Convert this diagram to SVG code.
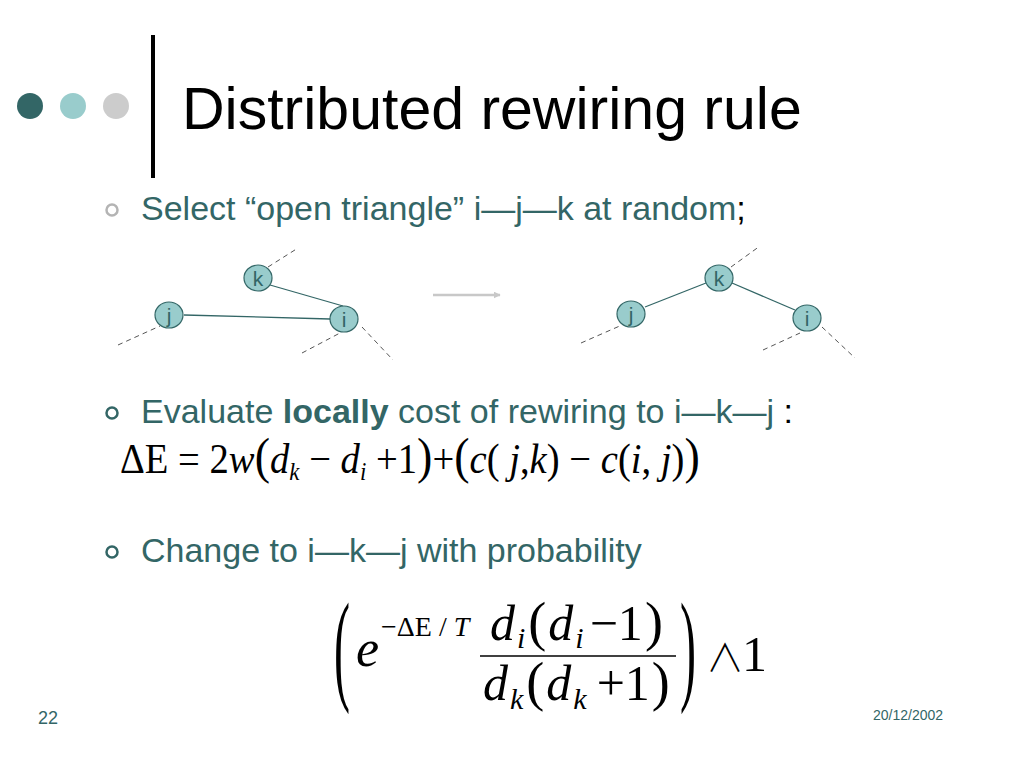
<svg xmlns="http://www.w3.org/2000/svg" width="1024" height="768" viewBox="0 0 1024 768">
<defs>
<style>
.sans{font-family:"Liberation Sans",Arial,sans-serif}
.body{font-size:34px;fill:#336666}
.node{fill:#99cccc;stroke:#336666;stroke-width:1.2}
.lbl{font-family:"Liberation Sans",Arial,sans-serif;font-size:21px;fill:#336666;text-anchor:middle}
.edge{stroke:#336666;stroke-width:1.3;fill:none}
.dash{stroke:#555;stroke-width:1;stroke-dasharray:5,4;fill:none}
.m{font-family:"Liberation Serif","Times New Roman",serif;fill:#000}
.i{font-style:italic}
</style>
<marker id="arr" viewBox="0 0 10 10" refX="9" refY="5" markerWidth="7" markerHeight="7" markerUnits="userSpaceOnUse" orient="auto">
<path d="M0,0 L10,5 L0,10 z" fill="#c8c8c8"/>
</marker>
</defs>
<rect width="1024" height="768" fill="#fff"/>
<g id="header">
<circle cx="30" cy="106" r="13" fill="#336666"/>
<circle cx="73" cy="106" r="13" fill="#99cccc"/>
<circle cx="116" cy="106" r="13" fill="#cccccc"/>
<line x1="153" y1="35" x2="153" y2="178" stroke="#000" stroke-width="4"/>
<text x="182" y="129" class="sans" font-size="59" fill="#000">Distributed rewiring rule</text>
</g>
<g id="bullet1">
<circle cx="112" cy="210" r="5.5" fill="none" stroke="#b4b4b4" stroke-width="2.5"/>
<text x="141" y="220" class="sans body">Select “open triangle” i—j—k at random<tspan fill="#000">;</tspan></text>
</g>
<g id="connectors">
<line class="dash" x1="268" y1="267" x2="298" y2="248"/>
<line class="dash" x1="118" y1="345" x2="160" y2="326"/>
<line class="dash" x1="302" y1="353" x2="340" y2="333"/>
<line class="dash" x1="362" y1="327" x2="393" y2="360"/>
<line class="edge" x1="270" y1="285" x2="343" y2="306"/>
<line class="edge" x1="184" y1="315" x2="330" y2="319"/>
<line x1="433" y1="295" x2="500" y2="295" stroke="#c8c8c8" stroke-width="2.5" marker-end="url(#arr)"/>
<line class="dash" x1="731" y1="267" x2="760" y2="246"/>
<line class="dash" x1="581" y1="343" x2="622" y2="325"/>
<line class="dash" x1="763" y1="350" x2="800" y2="333"/>
<line class="dash" x1="822" y1="327" x2="855" y2="358"/>
<line class="edge" x1="645" y1="307" x2="706" y2="283"/>
<line class="edge" x1="732" y1="283" x2="795" y2="310"/>
</g>
<g id="node-k1"><ellipse class="node" cx="258" cy="278" rx="14" ry="13"/><text class="lbl" x="258" y="286">k</text></g>
<g id="node-j1"><ellipse class="node" cx="169" cy="315" rx="14" ry="13"/><text class="lbl" x="169" y="323">j</text></g>
<g id="node-i1"><ellipse class="node" cx="344" cy="319" rx="14" ry="13"/><text class="lbl" x="344" y="327">i</text></g>
<g id="node-k2"><ellipse class="node" cx="719" cy="278" rx="14" ry="13"/><text class="lbl" x="719" y="286">k</text></g>
<g id="node-j2"><ellipse class="node" cx="631" cy="314" rx="14" ry="13"/><text class="lbl" x="631" y="322">j</text></g>
<g id="node-i2"><ellipse class="node" cx="807" cy="318" rx="14" ry="13"/><text class="lbl" x="807" y="326">i</text></g>
<g id="bullet2">
<circle cx="112" cy="413" r="5.5" fill="none" stroke="#336666" stroke-width="2.5"/>
<text x="141" y="423" class="sans body">Evaluate <tspan font-weight="bold">locally</tspan> cost of rewiring to i—k—j<tspan fill="#000"> :</tspan></text>
</g>
<g id="formula1" class="m" transform="translate(120,0) scale(0.92,1) translate(-120,0)">
<text x="120" y="473" font-size="42">ΔE = 2<tspan class="i">w</tspan><tspan font-size="50">(</tspan><tspan class="i">d</tspan><tspan class="i" font-size="25" dy="7">k</tspan><tspan dy="-7"> − </tspan><tspan class="i">d</tspan><tspan class="i" font-size="25" dy="7">i</tspan><tspan dy="-7"> +1</tspan><tspan font-size="50">)</tspan>+<tspan font-size="50">(</tspan><tspan class="i">c</tspan>( <tspan class="i">j</tspan>,<tspan class="i">k</tspan>) − <tspan class="i">c</tspan>(<tspan class="i">i</tspan>, <tspan class="i">j</tspan>)<tspan font-size="50">)</tspan></text>
</g>
<g id="bullet3">
<circle cx="112" cy="552" r="5.5" fill="none" stroke="#336666" stroke-width="2.5"/>
<text x="141" y="562" class="sans body">Change to i—k—j with probability</text>
</g>
<g id="formula2" class="m">
<text transform="translate(334,688) scale(1,2.55)" x="0" y="0" font-size="48">(</text>
<text x="356" y="666" class="i" font-size="52">e</text>
<text x="381" y="636" font-size="28">−ΔE / <tspan class="i">T</tspan></text>
<text x="490" y="640" font-size="50"><tspan class="i">d</tspan><tspan class="i" font-size="30" dx="2" dy="8">i</tspan><tspan dx="3" dy="-8" font-size="54">(</tspan><tspan class="i" dx="2">d</tspan><tspan class="i" font-size="30" dx="2" dy="8">i</tspan><tspan dx="6" dy="-8">−1</tspan><tspan dx="2" font-size="54">)</tspan></text>
<line x1="480" y1="656" x2="676" y2="656" stroke="#000" stroke-width="1.5"/>
<text x="483" y="700" font-size="50"><tspan class="i">d</tspan><tspan class="i" font-size="30" dx="2" dy="9">k</tspan><tspan dx="3" dy="-9" font-size="54">(</tspan><tspan class="i" dx="2">d</tspan><tspan class="i" font-size="30" dx="2" dy="9">k</tspan><tspan dx="10" dy="-9">+1</tspan><tspan dx="2" font-size="54">)</tspan></text>
<text transform="translate(680,688) scale(1,2.55)" x="0" y="0" font-size="48">)</text>
<text x="706" y="671" font-family="Noto Sans CJK JP,DejaVu Sans,sans-serif" font-weight="300" font-size="38">∧</text>
<text x="742" y="671" font-size="50">1</text>
</g>
<g id="footer">
<text x="38" y="724" class="sans" font-size="18" fill="#336666">22</text>
<text x="873" y="720" class="sans" font-size="14" fill="#336666">20/12/2002</text>
</g>
</svg>
